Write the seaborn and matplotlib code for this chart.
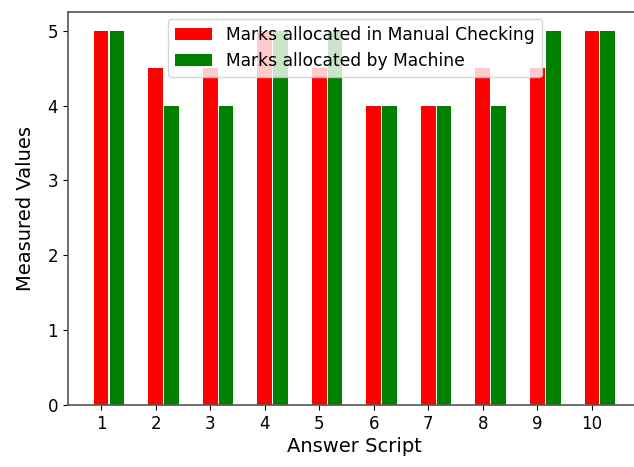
import matplotlib
matplotlib.use('Agg')
import matplotlib.pyplot as plt
import seaborn as sns

scripts = [1, 2, 3, 4, 5, 6, 7, 8, 9, 10]
manual = [5, 4.5, 4.5, 5, 4.5, 4, 4, 4.5, 4.5, 5]
machine = [5, 4, 4, 5, 5, 4, 4, 4, 5, 5]

fig = plt.figure(figsize=(6.34, 4.67), dpi=100)
ax = fig.add_axes([0.107, 0.133, 0.904, 0.841])

bw = 0.27
sns.barplot(x=scripts, y=manual, native_scale=True, width=bw, color='red',
            saturation=1, errorbar=None, linewidth=0,
            label='Marks allocated in Manual Checking', ax=ax)
sns.barplot(x=[s + 0.29 for s in scripts], y=machine, native_scale=True, width=bw,
            color='green', saturation=1, errorbar=None, linewidth=0,
            label='Marks allocated by Machine', ax=ax)

ax.set_xticks(scripts)
ax.set_xticklabels([str(s) for s in scripts], fontsize=12)
ax.set_yticks([0, 1, 2, 3, 4, 5])
ax.set_yticklabels(['0', '1', '2', '3', '4', '5'], fontsize=12)
ax.set_xlim(0.39, 10.9)
ax.set_ylim(0, 5.25)
ax.spines['right'].set_visible(False)
for sp in ['left', 'top', 'bottom']:
    ax.spines[sp].set_color('#555555')
    ax.spines[sp].set_linewidth(1.2)
ax.set_xlabel('Answer Script', fontsize=14, labelpad=3)
ax.set_ylabel('Measured Values', fontsize=14, labelpad=9)
ax.legend(loc='upper left', bbox_to_anchor=(0.16, 1.005), fontsize=12.3,
          handlelength=2.2)

fig.savefig('out.png', dpi=100)
